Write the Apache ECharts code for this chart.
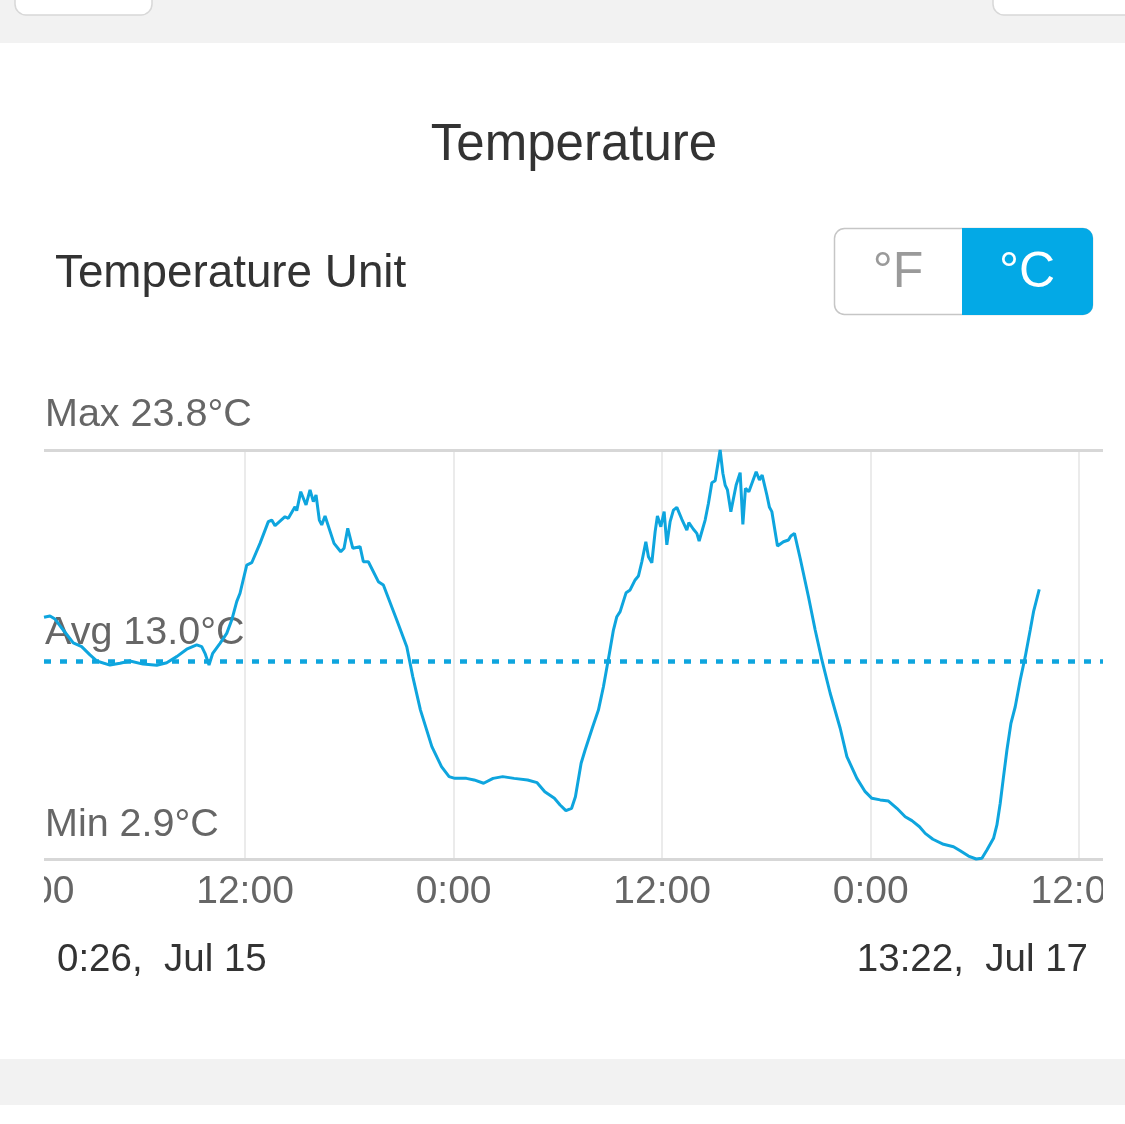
<!DOCTYPE html>
<html>
<head>
<meta charset="utf-8">
<script src="https://cdn.jsdelivr.net/npm/echarts@6/dist/echarts.min.js"></script>
<style>
html,body{margin:0;padding:0;background:#fff;}
#chart{width:1125px;height:1124px;}
</style>
</head>
<body>
<div id="chart"></div>
<script>
// ---- data (hours since Jul 15 00:00, temperature in °C) ----
const hours = [
  0.433, 0.777, 1.065, 1.542, 2.118, 2.601, 3.079, 3.465, 4.230, 4.806,
  5.381, 6.129, 6.918, 7.494, 8.069, 8.645, 9.220, 9.508, 9.698, 9.928,
  10.141, 10.561, 10.947, 11.235, 11.522, 11.712, 12.098, 12.386, 12.863, 13.341,
  13.537, 13.727, 14.302, 14.492, 14.878, 14.975, 15.206, 15.511, 15.741, 15.931,
  16.086, 16.276, 16.414, 16.604, 17.122, 17.508, 17.698, 17.911, 18.199, 18.619,
  18.809, 19.096, 19.672, 19.960, 20.731, 21.307, 21.652, 22.095, 22.751, 23.304,
  23.741, 24.075, 24.737, 25.180, 25.727, 26.273, 26.826, 27.482, 28.259, 28.806,
  29.249, 29.801, 30.129, 30.463, 30.791, 31.010, 31.338, 31.568, 32.006, 32.334,
  32.622, 32.967, 33.197, 33.393, 33.583, 33.928, 34.158, 34.446, 34.636, 34.832,
  35.062, 35.212, 35.407, 35.597, 35.729, 35.925, 36.115, 36.270, 36.460, 36.650,
  36.846, 37.134, 37.421, 37.536, 37.801, 37.997, 38.129, 38.475, 38.665, 38.860,
  39.050, 39.338, 39.494, 39.626, 39.758, 39.954, 40.259, 40.489, 40.645, 40.794,
  40.990, 41.410, 41.600, 41.755, 42.026, 42.176, 42.314, 42.636, 42.981, 43.269,
  43.407, 43.614, 43.942, 44.420, 44.806, 45.191, 45.669, 46.245, 46.630, 47.206,
  47.683, 48.069, 48.547, 49.024, 49.508, 49.986, 50.371, 50.808, 51.137, 51.580,
  52.190, 52.765, 53.151, 53.629, 54.072, 54.400, 54.688, 55.068, 55.263, 55.453,
  55.643, 55.839, 56.069, 56.317, 56.604, 56.892, 57.180, 57.370, 57.698
];
const temps = [
  15.25, 15.32, 15.16, 14.60, 13.94, 13.75, 13.33, 13.02, 12.81, 12.90,
  13.02, 12.86, 12.80, 12.93, 13.24, 13.62, 13.84, 13.75, 13.41, 12.81,
  13.41, 13.92, 14.43, 15.11, 16.05, 16.48, 17.92, 18.04, 19.03, 20.14,
  20.22, 19.93, 20.39, 20.31, 20.90, 20.70, 21.67, 20.99, 21.76, 21.16,
  21.50, 20.22, 19.97, 20.43, 19.03, 18.60, 18.78, 19.80, 18.78, 18.86,
  18.09, 18.09, 17.07, 16.90, 15.11, 13.75, 12.22, 10.51, 8.64, 7.62,
  7.11, 7.02, 7.02, 6.94, 6.77, 7.02, 7.11, 7.02, 6.94, 6.80,
  6.34, 6.00, 5.66, 5.37, 5.49, 6.08, 7.79, 8.47, 9.66, 10.51,
  11.70, 13.41, 14.60, 15.28, 15.54, 16.51, 16.65, 17.16, 17.36, 18.09,
  19.11, 18.35, 18.04, 19.63, 20.43, 19.88, 20.65, 18.95, 20.14, 20.73,
  20.87, 20.26, 19.71, 20.09, 19.75, 19.54, 19.15, 20.22, 21.08, 22.13,
  22.23, 23.80, 22.61, 22.01, 21.76, 20.65, 22.01, 22.64, 20.00, 21.84,
  21.67, 22.69, 22.27, 22.52, 21.50, 20.87, 20.65, 18.89, 19.11, 19.20,
  19.41, 19.54, 18.27, 16.30, 14.60, 13.07, 11.37, 9.58, 8.13, 7.02,
  6.34, 6.00, 5.92, 5.86, 5.49, 5.06, 4.86, 4.55, 4.21, 3.91,
  3.65, 3.53, 3.32, 3.05, 2.90, 2.94, 3.36, 3.96, 4.64, 5.75,
  7.11, 8.47, 9.83, 10.68, 12.05, 13.24, 14.60, 15.54, 16.68
];
const statNames = ['Max', 'Avg', 'Min'];
const statValues = [23.8, 13.0, 2.9];
const rangeStartHour = 26 / 60;          // 0:26, Jul 15
const rangeEndHour = 48 + 13 + 22 / 60;  // 13:22, Jul 17
const tickHours = [0, 12, 24, 36, 48, 60];
const tickLabels = ['0:00', '12:00', '0:00', '12:00', '0:00', '12:00'];
const rangeLabels = ['0:26,  Jul 15', '13:22,  Jul 17'];
const titleText = 'Temperature';
const unitText = 'Temperature Unit';
const unitOptions = ['°F', '°C'];

// ---- layout ----
const FONT = '"Liberation Sans", Arial, sans-serif';
const BLUE = '#0ea5de';
const plotLeft = 44, plotRight = 1103, plotTop = 450, plotBottom = 859;
const pxPerHour = (plotRight - plotLeft) / (rangeEndHour - rangeStartHour);
const tickGridLeft = plotLeft - (rangeStartHour - tickHours[0]) * pxPerHour;
const tickGridWidth = (tickHours[tickHours.length - 1] - tickHours[0]) * pxPerHour;

const seriesData = hours.map((h, i) => [h, temps[i]]);

const statStyles = [
  { lineStyle: { color: '#d7d7d7', width: 3, type: 'solid' }, dist: [1, 15] },
  { lineStyle: { color: BLUE, width: 4.5, type: [7, 9] }, dist: [1, 8] },
  { lineStyle: { color: '#d7d7d7', width: 3, type: 'solid' }, dist: [1, 14] }
];

const chart = echarts.init(document.getElementById('chart'), null, { renderer: 'canvas' });
chart.setOption({
  animation: false,
  backgroundColor: '#ffffff',
  grid: [
    { left: plotLeft, top: plotTop, width: plotRight - plotLeft, height: plotBottom - plotTop,
      containLabel: false, outerBoundsMode: 'none' },
    { left: tickGridLeft, top: plotTop, width: tickGridWidth, height: plotBottom - plotTop,
      containLabel: false, outerBoundsMode: 'none' }
  ],
  xAxis: [
    { type: 'value', gridIndex: 0, min: rangeStartHour, max: rangeEndHour, show: false },
    {
      type: 'value', gridIndex: 1, min: tickHours[0], max: tickHours[tickHours.length - 1], interval: 12,
      axisLine: { show: false }, axisTick: { show: false },
      axisLabel: {
        margin: 14, fontSize: 39, color: '#666', fontFamily: FONT,
        formatter: v => tickLabels[tickHours.indexOf(v)]
      },
      splitLine: { show: true, showMinLine: false, showMaxLine: true, lineStyle: { color: '#e4e4e4', width: 1.5 } }
    }
  ],
  yAxis: [
    { type: 'value', gridIndex: 0, min: statValues[2], max: statValues[0], show: false },
    { type: 'value', gridIndex: 1, min: 0, max: 1, show: false }
  ],
  series: [{
    type: 'line',
    xAxisIndex: 0, yAxisIndex: 0,
    data: seriesData,
    symbol: 'none',
    clip: false,
    silent: true,
    z: 3,
    lineStyle: { color: BLUE, width: 3 },
    markLine: {
      silent: true,
      symbol: ['none', 'none'],
      z: 2,
      data: statValues.map((v, i) => ({
        yAxis: v,
        lineStyle: statStyles[i].lineStyle,
        label: {
          show: true,
          position: 'insideStartTop',
          distance: statStyles[i].dist,
          color: '#666',
          fontSize: 39.5,
          fontFamily: FONT,
          formatter: () => statNames[i] + ' ' + v.toFixed(1) + '°C'
        }
      }))
    }
  }],
  graphic: [
    // page chrome
    { type: 'rect', z: -10, shape: { x: 0, y: 0, width: 1125, height: 43 }, style: { fill: '#f2f2f2' } },
    { type: 'rect', z: -9, shape: { x: 15, y: -25, width: 137, height: 40, r: 11 }, style: { fill: '#fff', stroke: '#d8d8d8', lineWidth: 1.5 } },
    { type: 'rect', z: -9, shape: { x: 993, y: -25, width: 160, height: 40, r: 11 }, style: { fill: '#fff', stroke: '#d8d8d8', lineWidth: 1.5 } },
    { type: 'rect', z: -10, shape: { x: 0, y: 1059, width: 1125, height: 46 }, style: { fill: '#f2f2f2' } },
    // title & unit row
    { type: 'text', x: 574, y: 146, style: { text: titleText, font: '51px ' + FONT, fill: '#333', align: 'center', verticalAlign: 'middle' } },
    { type: 'text', x: 55, y: 274, style: { text: unitText, font: '45.8px ' + FONT, fill: '#333', align: 'left', verticalAlign: 'middle' } },
    { type: 'rect', shape: { x: 834.5, y: 228.5, width: 258, height: 86, r: 10 }, style: { fill: '#fff', stroke: '#c6c6c6', lineWidth: 1.5 } },
    { type: 'rect', shape: { x: 962, y: 228, width: 131, height: 87, r: [0, 10, 10, 0] }, style: { fill: '#03a9e6' } },
    { type: 'text', x: 898, y: 273, style: { text: unitOptions[0], font: '300 50px ' + FONT, fill: '#9a9a9a', align: 'center', verticalAlign: 'middle' } },
    { type: 'text', x: 1027, y: 273, style: { text: unitOptions[1], font: '300 50px ' + FONT, fill: '#fff', align: 'center', verticalAlign: 'middle' } },
    // range labels
    { type: 'text', x: 57, y: 960, style: { text: rangeLabels[0], font: '38.5px ' + FONT, fill: '#333', align: 'left', verticalAlign: 'middle' } },
    { type: 'text', x: 1088, y: 960, style: { text: rangeLabels[1], font: '38.5px ' + FONT, fill: '#333', align: 'right', verticalAlign: 'middle' } },
    // clip tick labels to the plot's horizontal extent
    { type: 'rect', z: 100, shape: { x: 0, y: 866, width: plotLeft, height: 50 }, style: { fill: '#fff' } },
    { type: 'rect', z: 100, shape: { x: plotRight, y: 866, width: 1125 - plotRight, height: 50 }, style: { fill: '#fff' } }
  ]
});
</script>
</body>
</html>
